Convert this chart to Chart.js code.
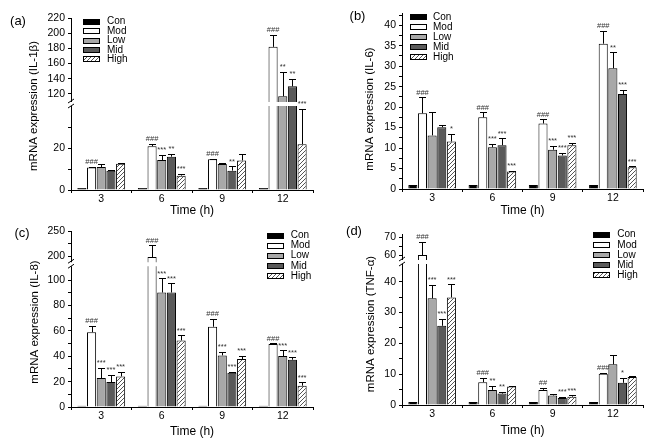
<!DOCTYPE html>
<html>
<head>
<meta charset="utf-8">
<script src="https://cdn.jsdelivr.net/npm/chart.js@4.4.0/dist/chart.umd.min.js"></script>
<style>
	html, body { margin: 0; padding: 0; background: #fff; }
	#wrap { position: relative; width: 660px; height: 447px; }
	#wrap canvas { position: absolute; }
</style>
</head>
<body>
<div id="wrap">
	<canvas id="chartA" width="330" height="222" style="left:0;top:0"></canvas>
	<canvas id="chartB" width="330" height="222" style="left:330px;top:0"></canvas>
	<canvas id="chartC" width="330" height="225" style="left:0;top:222px"></canvas>
	<canvas id="chartD" width="330" height="225" style="left:330px;top:222px"></canvas>
</div>
<script>

var times = ['3', '6', '9', '12'];
var groups = ['Con', 'Mod', 'Low', 'Mid', 'High'];

/* (a) IL-1beta  - rows follow groups, columns follow times */
var il1bMean = [[1, 1, 1, 1], [10.8, 21, 14.8, 182], [11, 14.4, 12.5, 117], [9.3, 16, 9.3, 130], [12.6, 6.9, 14.2, 22]];
var il1bErr = [[0, 0, 0, 0], [0.4, 1.3, 0.3, 16], [1.4, 2.6, 0.7, 32], [0.4, 1.5, 2, 10], [0.6, 0.7, 3, 17]];
var il1bSig = [['', '', '', ''], ['###', '###', '###', '###'], ['', '***', '', '**'], ['', '**', '**', '**'], ['', '***', '', '***']];

/* (b) IL-6 */
var il6Mean = [[1, 1, 1, 1], [18.5, 17.5, 16, 35.5], [13.1, 10.2, 9.6, 29.5], [15.1, 10.7, 8.2, 23.2], [11.6, 4.3, 10.7, 5.3]];
var il6Err = [[0, 0, 0, 0], [3.9, 1.2, 1, 3.2], [5.6, 0.8, 1, 3.9], [0.6, 1.7, 0.6, 1], [1.8, 0.2, 0.5, 0.2]];
var il6Sig = [['', '', '', ''], ['###', '###', '###', '###'], ['', '***', '***', '**'], ['', '***', '***', '***'], ['*', '***', '***', '***']];

/* (c) IL-8 */
var il8Mean = [[1, 1, 1, 1], [59, 199, 63.3, 49.6], [22.8, 90.3, 40.7, 40.2], [19.7, 90.3, 27, 37.3], [24.1, 52.5, 37.8, 16.8]];
var il8Err = [[0, 0, 0, 0], [5, 23, 6, 0.5], [7.9, 11.3, 2.6, 4.4], [5.8, 7.3, 0.8, 1.8], [3.5, 3.9, 2.6, 2.6]];
var il8Sig = [['', '', '', ''], ['###', '###', '###', '###'], ['***', '***', '***', '***'], ['***', '***', '***', '***'], ['***', '***', '***', '***']];

/* (d) TNF-alpha */
var tnfMean = [[1, 1, 1, 1], [60, 7.4, 4.9, 10.1], [34.6, 4.9, 3.1, 13.2], [25.7, 3.7, 2.3, 7.2], [34.9, 6, 2.7, 9.1]];
var tnfErr = [[0, 0, 0, 0], [7.5, 1.4, 0.7, 0.3], [4.3, 1.3, 0.5, 2.9], [2.2, 0.6, 0.4, 1.6], [4.2, 0.1, 0.4, 0.2]];
var tnfSig = [['', '', '', ''], ['###', '###', '##', '###'], ['***', '**', '', ''], ['***', '**', '***', '*'], ['***', '', '***', '']];


var fontFamily = 'Arial, "Liberation Sans", Helvetica, sans-serif';

function hatchPattern() {
	var c = document.createElement('canvas');
	c.width = 4;
	c.height = 4;
	var g = c.getContext('2d');
	g.fillStyle = '#fff';
	g.fillRect(0, 0, 4, 4);
	g.strokeStyle = '#555';
	g.lineWidth = 1;
	g.beginPath();
	g.moveTo(0, 4); g.lineTo(4, 0);
	g.moveTo(-1, 1); g.lineTo(1, -1);
	g.moveTo(3, 5); g.lineTo(5, 3);
	g.stroke();
	return g.createPattern(c, 'repeat');
}

var fills = ['#000', '#fff', '#a8a8a8', '#5a5a5a', hatchPattern()];


function makePanel(canvasId, p) {

	var broken = p.upperMin !== undefined;
	var datasets = [];

	groups.forEach(function(g, i) {
		datasets.push({
			label: g,
			data: p.mean[i].map(function(v) { return broken ? Math.min(v, p.lowerMax) : v; }),
			yAxisID: 'y',
			stack: g,
			backgroundColor: fills[i],
			borderColor: '#000',
			borderWidth: 1,
			categoryPercentage: 0.8,
			barPercentage: 0.94
		});
	});

	if (broken) {
		groups.forEach(function(g, i) {
			datasets.push({
				label: g,
				data: p.mean[i].map(function(v) { return v > p.upperMin ? v : null; }),
				yAxisID: 'y2',
				stack: g,
				base: p.upperMin,
				backgroundColor: fills[i],
				borderColor: '#000',
				borderWidth: 1,
				categoryPercentage: 0.8,
				barPercentage: 0.94
			});
		});
	}

	function yScale(min, max, step, labelStep, lo, hi) {
		return {
			min: min,
			max: max,
			grid: { drawOnChartArea: false, tickLength: 3, color: '#000' },
			border: { color: '#000' },
			ticks: {
				stepSize: step,
				includeBounds: false,
				autoSkip: false,
				padding: 3,
				color: '#000',
				font: { family: fontFamily, size: 10.5 },
				callback: function(v) {
					var r = v / labelStep;
					return Math.abs(r - Math.round(r)) < 1e-6 ? String(v) : '';
				}
			},
			afterBuildTicks: function(s) {
				s.ticks = s.ticks.filter(function(t) { return t.value >= lo - 1e-6 && t.value <= hi + 1e-6; });
			},
			afterFit: function(s) { s.width = p.left; }
		};
	}

	var scales = {
		x: {
			grid: { drawOnChartArea: false, tickLength: 3, color: '#000', offset: true },
			border: { color: '#000' },
			ticks: { color: '#000', padding: 0, font: { family: fontFamily, size: 10.5 } },
			title: {
				display: true,
				text: 'Time (h)',
				color: '#000',
				font: { family: fontFamily, size: 12 },
				padding: { top: 0, bottom: p.xTitlePad }
			},
			afterFit: function(s) { s.height = p.height - p.bottom; }
		}
	};

	scales.y = yScale(0, p.lowerMax, p.lowerStep, p.lowerLabel, p.lowerTicks[0], p.lowerTicks[1]);
	if (broken) {
		scales.y.stack = 'v';
		scales.y.stackWeight = p.bottom - p.boundary;
		scales.y2 = yScale(p.upperMin, p.upperMax, p.upperStep, p.upperLabel, p.upperTicks[0], p.upperTicks[1]);
		scales.y2.stack = 'v';
		scales.y2.stackWeight = p.boundary - p.top;
	}

	var deco = {
		id: 'deco' + canvasId,
		afterDatasetsDraw: function(chart) {
			var ctx = chart.ctx;
			var area = chart.chartArea;
			var yLow = chart.scales.y;
			var yHigh = chart.scales.y2;

			function pix(v) {
				return (broken && v > p.lowerMax) ? yHigh.getPixelForValue(v) : yLow.getPixelForValue(v);
			}

			ctx.save();

			// axis break: white gap across the plot and the two slashes
			if (broken) {
				var yb = yLow.top;
				ctx.fillStyle = '#fff';
				ctx.fillRect(area.left - 1, yb - 2, area.right - area.left + 1, 4);
				ctx.strokeStyle = '#000';
				ctx.lineWidth = 1;
				ctx.beginPath();
				ctx.moveTo(area.left - 3, yb - 1); ctx.lineTo(area.left + 3, yb - 5);
				ctx.moveTo(area.left - 3, yb + 4); ctx.lineTo(area.left + 3, yb);
				ctx.stroke();
			}

			// error bars and significance marks
			ctx.strokeStyle = '#000';
			ctx.lineWidth = 1;
			ctx.font = '7.5px ' + fontFamily;
			ctx.textAlign = 'center';
			ctx.textBaseline = 'bottom';
			ctx.fillStyle = '#333';

			groups.forEach(function(g, i) {
				var meta = chart.getDatasetMeta(i);
				meta.data.forEach(function(bar, j) {
					var v = p.mean[i][j];
					var e = p.err[i][j];
					var x = Math.round(bar.x) + 0.5;
					var yTop = pix(v + e);
					if (e > 0) {
						ctx.beginPath();
						ctx.moveTo(x, pix(v));
						ctx.lineTo(x, Math.round(yTop) + 0.5);
						ctx.moveTo(x - 3.5, Math.round(yTop) + 0.5);
						ctx.lineTo(x + 3.5, Math.round(yTop) + 0.5);
						ctx.stroke();
					}
					if (p.sig[i][j]) {
						ctx.fillText(p.sig[i][j], bar.x, yTop - 1);
					}
				});
			});

			ctx.restore();
		},
		afterDraw: function(chart) {
			var ctx = chart.ctx;
			ctx.save();

			// legend
			ctx.font = '10px ' + fontFamily;
			ctx.textAlign = 'left';
			ctx.textBaseline = 'middle';
			groups.forEach(function(g, i) {
				var y = p.legend.y + i * p.legend.step;
				var x0 = Math.round(p.legend.x);
				var y0 = Math.round(y - 3);
				ctx.fillStyle = fills[i];
				ctx.fillRect(x0, y0, 17, 6);
				ctx.strokeStyle = '#000';
				ctx.lineWidth = 1;
				ctx.strokeRect(x0 + 0.5, y0 + 0.5, 16, 5);
				ctx.fillStyle = '#000';
				ctx.fillText(g, p.legend.tx, y);
			});

			// y title
			ctx.save();
			ctx.translate(p.titleX, p.titleY);
			ctx.rotate(-Math.PI / 2);
			ctx.textAlign = 'center';
			ctx.font = '11.5px ' + fontFamily;
			ctx.fillText(p.yTitle, 0, 0);
			ctx.restore();

			// panel letter
			ctx.font = '13px ' + fontFamily;
			ctx.textAlign = 'center';
			ctx.fillText(p.panel, p.panelX, p.panelY);

			ctx.restore();
		}
	};

	return new Chart(document.getElementById(canvasId), {
		type: 'bar',
		data: { labels: times, datasets: datasets },
		options: {
			responsive: false,
			animation: false,
			events: [],
			layout: { padding: { left: 0, right: p.width - p.right, top: p.top, bottom: 0 } },
			scales: scales,
			plugins: { legend: { display: false }, tooltip: { enabled: false } }
		},
		plugins: [deco]
	});
}



/* (a) */
makePanel('chartA', {
	mean: il1bMean, err: il1bErr, sig: il1bSig,
	width: 330, height: 222, left: 71, right: 313, top: 18, boundary: 104, bottom: 190,
	lowerMax: 41.3, lowerStep: 10, lowerLabel: 20, lowerTicks: [0, 30],
	upperMin: 106.8, upperMax: 220, upperStep: 20, upperLabel: 20, upperTicks: [120, 220],
	xTitlePad: 4,
	yTitle: 'mRNA expression (IL-1\u03b2)', titleX: 34, titleY: 106,
	panel: '(a)', panelX: 18, panelY: 21,
	legend: { x: 83, y: 21.7, step: 9.4, tx: 107 }
});

/* (b) */
makePanel('chartB', {
	mean: il6Mean, err: il6Err, sig: il6Sig,
	width: 330, height: 222, left: 72, right: 313, top: 13, bottom: 189,
	lowerMax: 43, lowerStep: 2.5, lowerLabel: 5, lowerTicks: [0, 42.5],
	xTitlePad: 4.4,
	yTitle: 'mRNA expression (IL-6)', titleX: 40, titleY: 109,
	panel: '(b)', panelX: 27.5, panelY: 16.7,
	legend: { x: 80, y: 17.3, step: 10, tx: 103 }
});

/* (c) */
makePanel('chartC', {
	mean: il8Mean, err: il8Err, sig: il8Sig,
	width: 330, height: 225, left: 71, right: 313, top: 9, boundary: 42, bottom: 185,
	lowerMax: 112.6, lowerStep: 10, lowerLabel: 20, lowerTicks: [0, 100],
	upperMin: 184.6, upperMax: 250, upperStep: 25, upperLabel: 50, upperTicks: [200, 250],
	xTitlePad: 8.4,
	yTitle: 'mRNA expression (IL-8)', titleX: 35, titleY: 100,
	panel: '(c)', panelX: 22, panelY: 11.3,
	legend: { x: 267, y: 13.5, step: 10.1, tx: 290.7 }
});

/* (d) */
makePanel('chartD', {
	mean: tnfMean, err: tnfErr, sig: tnfSig,
	width: 330, height: 225, left: 72, right: 313, top: 12, boundary: 40, bottom: 183,
	lowerMax: 46.4, lowerStep: 5, lowerLabel: 10, lowerTicks: [0, 40],
	upperMin: 56, upperMax: 72, upperStep: 5, upperLabel: 10, upperTicks: [60, 70],
	xTitlePad: 9.4,
	yTitle: 'mRNA expression (TNF-\u03b1)', titleX: 41, titleY: 102,
	panel: '(d)', panelX: 24, panelY: 9.7,
	legend: { x: 263, y: 12.7, step: 10.1, tx: 287.3 }
});

</script>
</body>
</html>
